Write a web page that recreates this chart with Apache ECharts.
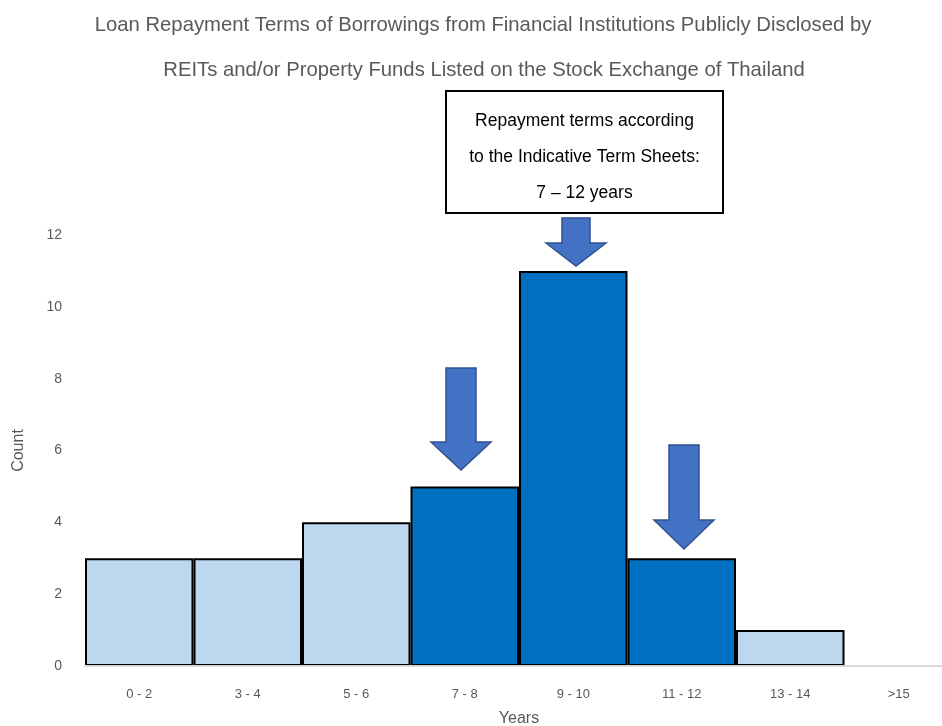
<!DOCTYPE html>
<html>
<head>
<meta charset="utf-8">
<script src="https://cdn.jsdelivr.net/npm/echarts@6/dist/echarts.min.js"></script>
<style>
  html, body { margin: 0; padding: 0; background: #fff; }
  #chart { width: 942px; height: 726px; }
</style>
</head>
<body>
<div id="chart"></div>
<script>
// Loan repayment term buckets and number of borrowings in each
const categories = ['0 - 2', '3 - 4', '5 - 6', '7 - 8', '9 - 10', '11 - 12', '13 - 14', '>15'];
const counts = [3, 3, 4, 5, 11, 3, 1, 0];
// Buckets covered by the indicative term sheets (7 - 12 years)
const indicativeBuckets = ['7 - 8', '9 - 10', '11 - 12'];
const yTicks = [0, 2, 4, 6, 8, 10, 12];

const titleLines = [
  'Loan Repayment Terms of Borrowings from Financial Institutions Publicly Disclosed by',
  'REITs and/or Property Funds Listed on the Stock Exchange of Thailand'
];
const noteLines = ['Repayment terms according', 'to the Indicative Term Sheets:', '7 \u2013 12 years'];

const chart = echarts.init(document.getElementById('chart'), null, { renderer: 'canvas' });

const FONT = 'Liberation Sans, Arial, sans-serif';
const GREY = '#595959';
const LIGHT = '#BDD7EE', DARK = '#0070C0';
const ARROW_FILL = '#4472C4', ARROW_EDGE = '#2F528F';

// Down arrow polygon: shaft from top, widening into a head ending at tip
function downArrow(cx, top, tip, shaftW, headW, headH) {
  const hs = shaftW / 2, hh = headW / 2, neck = tip - headH;
  return {
    type: 'polygon',
    z: 100,
    shape: { points: [
      [cx - hs, top], [cx + hs, top], [cx + hs, neck], [cx + hh, neck],
      [cx, tip], [cx - hh, neck], [cx - hs, neck]
    ] },
    style: { fill: ARROW_FILL, stroke: ARROW_EDGE, lineWidth: 1.5 }
  };
}

function centredText(text, x, y, size, color) {
  return {
    type: 'text', z: 101, x: x, y: y,
    style: { text: text, fill: color, fontSize: size, align: 'center', verticalAlign: 'middle', fontFamily: FONT }
  };
}

const option = {
  backgroundColor: '#fff',
  animation: false,
  grid: { left: 85, width: 868, top: 235, bottom: 60, containLabel: false, outerBoundsMode: 'none' },
  xAxis: {
    type: 'category',
    data: categories,
    z: 5,
    name: 'Years',
    nameLocation: 'middle',
    nameGap: 45,
    nameTextStyle: { color: GREY, fontSize: 16, fontFamily: FONT },
    axisLine: { show: true, lineStyle: { color: '#D9D9D9', width: 2 } },
    axisTick: { show: false },
    axisLabel: { color: GREY, fontSize: 13, margin: 22, fontFamily: FONT },
    splitLine: { show: false }
  },
  yAxis: {
    type: 'value',
    min: yTicks[0],
    max: yTicks[yTicks.length - 1],
    interval: yTicks[1] - yTicks[0],
    name: 'Count',
    nameLocation: 'middle',
    nameGap: 58,
    nameTextStyle: { color: GREY, fontSize: 16, fontFamily: FONT },
    axisLine: { show: false },
    axisTick: { show: false },
    splitLine: { show: false },
    axisLabel: { color: GREY, fontSize: 14, margin: 23, fontFamily: FONT }
  },
  series: [{
    type: 'bar',
    barCategoryGap: '0%',
    data: counts.map((v, i) => ({
      value: v,
      itemStyle: {
        color: indicativeBuckets.includes(categories[i]) ? DARK : LIGHT,
        borderColor: '#000',
        borderWidth: v > 0 ? 2 : 0
      }
    }))
  }],
  graphic: [
    centredText(titleLines[0], 483, 25, 20.3, GREY),
    centredText(titleLines[1], 484, 70, 20.3, GREY),
    {
      type: 'rect', z: 100,
      shape: { x: 446, y: 91, width: 277, height: 122 },
      style: { fill: '#fff', stroke: '#000', lineWidth: 2 }
    },
    centredText(noteLines[0], 584.5, 121, 17.5, '#000'),
    centredText(noteLines[1], 584.5, 157, 17.5, '#000'),
    centredText(noteLines[2], 584.5, 193, 17.5, '#000'),
    downArrow(576, 218, 266, 28, 60, 23),
    downArrow(461, 368, 470, 30, 60, 28),
    downArrow(684, 445, 549, 30, 60, 29)
  ]
};

chart.setOption(option);
</script>
</body>
</html>
